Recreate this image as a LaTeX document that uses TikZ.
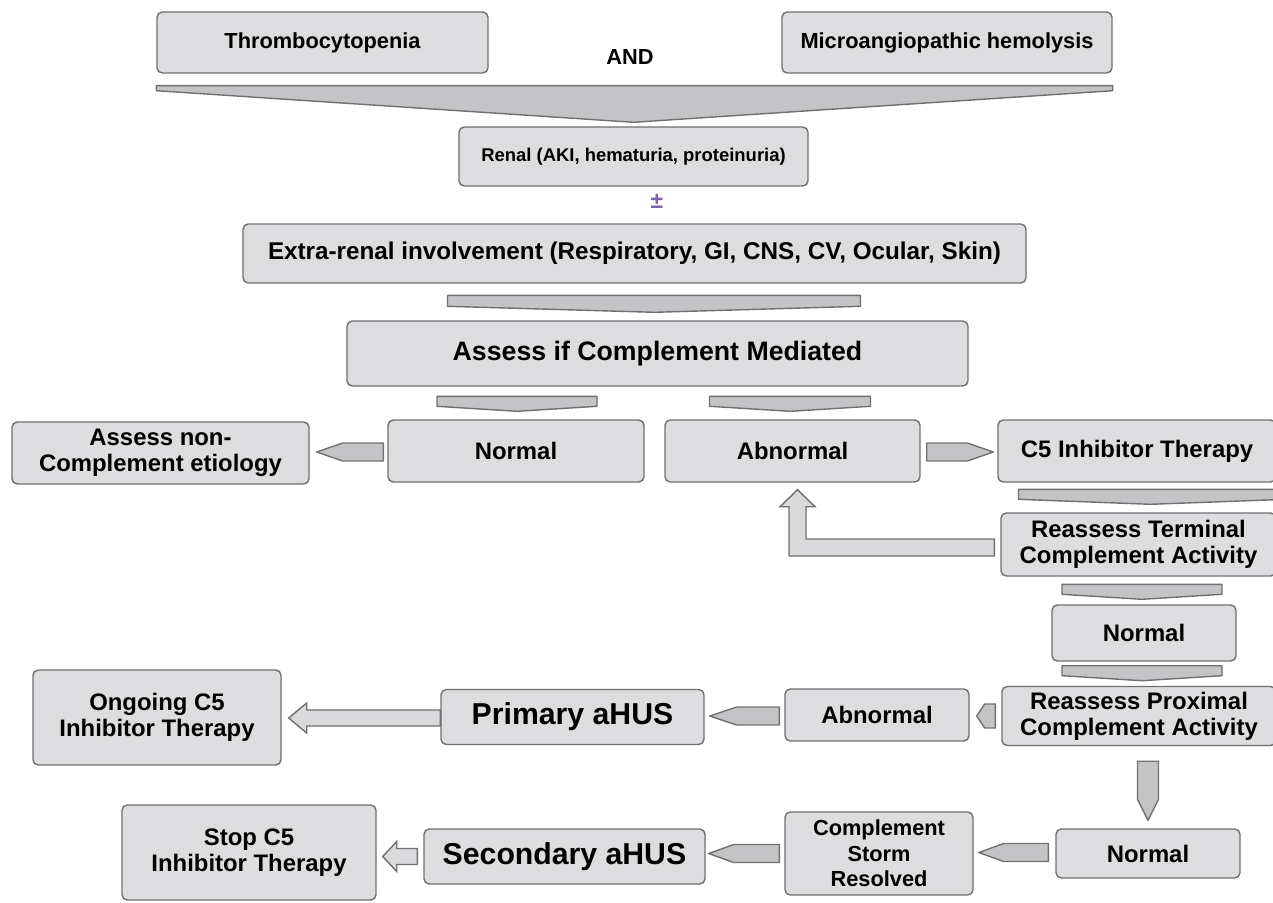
\documentclass[tikz,border=0pt]{standalone}
\usepackage{fontspec}
\setmainfont{Liberation Sans}
\usetikzlibrary{calc}

\definecolor{boxfill}{RGB}{221,221,223}
\definecolor{boxline}{RGB}{112,112,114}
\definecolor{arrfill}{RGB}{196,196,198}
\definecolor{lightfill}{RGB}{218,218,220}
\definecolor{pmpurple}{RGB}{128,100,170}

\tikzset{
  box/.style 2 args={draw=boxline, fill=boxfill, line width=0.8pt, rounded corners=3pt,
    align=center, inner sep=0pt, minimum width=#1*0.02cm, minimum height=#2*0.02cm},
  txtS/.style={font=\bfseries\fontsize{10.5}{12}\selectfont},
  txtM/.style={font=\bfseries\fontsize{12.4}{14.6}\selectfont},
  txtL/.style={font=\bfseries\fontsize{13.6}{14.8}\selectfont},
  txtXL/.style={font=\bfseries\fontsize{15.2}{17}\selectfont},
  txtXXL/.style={font=\bfseries\fontsize{17.2}{19}\selectfont},
  chev/.style={draw=boxline, fill=arrfill, line width=0.8pt, line join=round},
  blockarr/.style={draw=boxline, fill=arrfill, line width=0.8pt, line join=round},
  lightarr/.style={draw=boxline, fill=lightfill, line width=0.8pt, line join=miter}
}

\begin{document}
\begin{tikzpicture}[x=0.02cm, y=-0.02cm]
  \fill[white] (0,0) rectangle (1273,902);
  \useasboundingbox (0,0) rectangle (1273,902);

  % first row
  \node[box={331}{61}, txtM] (thromb) at (322.5,42.5) {Thrombocytopenia};
  \node[box={330}{61}, txtM] (micro) at (947,42.5) {Microangiopathic hemolysis};
  \node[txtM] (andlbl) at (630,57) {AND};

  \node[box={349}{59}, txtS] (renal) at (633.5,156.5) {Renal (AKI, hematuria, proteinuria)};
  \node[font=\bfseries\fontsize{13}{15}\selectfont, text=pmpurple] (pm) at (657,201) {±};
  \node[box={783}{59}, font=\bfseries\fontsize{13.8}{15}\selectfont] (extra) at (634.5,253.5) {Extra-renal involvement (Respiratory, GI, CNS, CV, Ocular, Skin)};
  \node[box={621}{65}, txtXL] (assess) at (657.5,353.5) {Assess if Complement Mediated};

  % second row
  \node[box={256}{62}, txtL] (normA) at (516,451) {Normal};
  \node[box={255}{62}, txtL] (abnA) at (792.5,451) {Abnormal};
  \node[box={297}{62}, txtL] (noncomp) at (160.5,453) {Assess non-\\Complement etiology};
  \node[box={278}{62}, txtL] (c5) at (1137,451) {C5 Inhibitor Therapy};

  % right column
  \node[box={275}{63}, txtL] (reterm) at (1138.5,544.5) {Reassess Terminal\\Complement Activity};
  \node[box={184}{56}, txtL] (normB) at (1144,633) {Normal};
  \node[box={274}{59}, txtL] (reprox) at (1139,716) {Reassess Proximal\\Complement Activity};

  % primary row
  \node[box={184}{52}, txtL] (abnB) at (877,715) {Abnormal};
  \node[box={263}{55}, txtXXL] (primary) at (572.5,717) {Primary aHUS};
  \node[box={248}{95}, txtL] (ongoing) at (157,717.5) {Ongoing C5\\Inhibitor Therapy};

  % secondary row
  \node[box={184}{49}, txtL] (normC) at (1148,853.5) {Normal};
  \node[box={188}{83}, txtM] (storm) at (879,853.5) {Complement\\Storm\\Resolved};
  \node[box={281}{55}, txtXXL] (secondary) at (564.5,856.5) {Secondary aHUS};
  \node[box={254}{95}, txtL] (stop) at (249,852.5) {Stop C5\\Inhibitor Therapy};

  % chevrons
  \draw[chev] ($(thromb.south west)+(0,12)$) coordinate (c1) -- ($(micro.south east)+(0,12)$) -- ++(0,5)
    -- ($(renal.north)+(0,-4)$) -- ($(c1)+(0,5)$) -- cycle;
  \draw[chev] ($(assess.north)+(-210,-25)$) coordinate (c2) -- ($(assess.north)+(203,-25)$) -- ++(0,11)
    -- ($(assess.north)+(-3,-8)$) -- ($(c2)+(0,11)$) -- cycle;
  \draw[chev] ($(normA.north)+(-79,-23)$) coordinate (c3) -- ($(normA.north)+(81,-23)$) -- ++(0,10)
    -- ($(normA.north)+(1,-8)$) -- ($(c3)+(0,10)$) -- cycle;
  \draw[chev] ($(abnA.north)+(-83,-23)$) coordinate (c4) -- ($(abnA.north)+(78,-23)$) -- ++(0,10)
    -- ($(abnA.north)+(-2,-8)$) -- ($(c4)+(0,10)$) -- cycle;
  \draw[chev] ($(reterm.north)+(-120,-23)$) coordinate (c5p) -- ($(reterm.north)+(148,-23)$) -- ++(0,10)
    -- ($(reterm.north)+(12,-8)$) -- ($(c5p)+(0,10)$) -- cycle;
  \draw[chev] ($(normB.north)+(-82,-20)$) coordinate (c6) -- ($(normB.north)+(78,-20)$) -- ++(0,10)
    -- ($(normB.north)+(-2,-5)$) -- ($(c6)+(0,10)$) -- cycle;
  \draw[chev] ($(normB.south)+(-82,4)$) coordinate (c7) -- ($(normB.south)+(78,4)$) -- ++(0,10)
    -- ($(normB.south)+(-2,19)$) -- ($(c7)+(0,10)$) -- cycle;

  % block arrows
  \coordinate (t1) at ($(normA.west)+(-4,1)$);
  \coordinate (h1) at ($(noncomp.east |- t1)+(7,0)$);
  \draw[blockarr] ($(t1)+(0,-9)$) -- ($(h1)+(26,-9)$) -- (h1) -- ($(h1)+(26,9)$) -- ($(t1)+(0,9)$) -- cycle;

  \coordinate (t2) at ($(abnA.east)+(6,1)$);
  \coordinate (h2) at ($(c5.west |- t2)+(-4,0)$);
  \draw[blockarr] ($(t2)+(0,-9)$) -- ($(h2)+(-26,-9)$) -- (h2) -- ($(h2)+(-26,9)$) -- ($(t2)+(0,9)$) -- cycle;

  \coordinate (t3) at ($(reprox.west)+(-6,0)$);
  \coordinate (h3) at ($(abnB.east |- t3)+(7,0)$);
  \draw[blockarr] ($(t3)+(0,-12)$) -- ($(h3)+(8,-12)$) -- (h3) -- ($(h3)+(8,12)$) -- ($(t3)+(0,12)$) -- cycle;

  \coordinate (t4) at ($(abnB.west)+(-5,1)$);
  \coordinate (h4) at ($(primary.east |- t4)+(5,0)$);
  \draw[blockarr] ($(t4)+(0,-9)$) -- ($(h4)+(27,-9)$) -- (h4) -- ($(h4)+(27,9)$) -- ($(t4)+(0,9)$) -- cycle;

  \coordinate (t6) at ($(storm.west)+(-5,0)$);
  \coordinate (h6) at ($(secondary.east |- t6)+(3,0)$);
  \draw[blockarr] ($(t6)+(0,-9)$) -- ($(h6)+(25,-9)$) -- (h6) -- ($(h6)+(25,9)$) -- ($(t6)+(0,9)$) -- cycle;

  \coordinate (t7) at ($(normC.west)+(-7,-1)$);
  \coordinate (h7) at ($(storm.east |- t7)+(5,0)$);
  \draw[blockarr] ($(t7)+(0,-9)$) -- ($(h7)+(25,-9)$) -- (h7) -- ($(h7)+(25,9)$) -- ($(t7)+(0,9)$) -- cycle;

  \coordinate (dt) at ($(normC.north |- reprox.south)+(0,15)$);
  \coordinate (dh) at ($(normC.north)+(0,-8)$);
  \draw[blockarr] ($(dt)+(-10.5,0)$) -- ($(dh)+(-10.5,-21)$) -- (dh) -- ($(dh)+(10.5,-21)$) -- ($(dt)+(10.5,0)$) -- cycle;

  % light arrows
  \coordinate (t5) at ($(primary.west)+(0,1)$);
  \coordinate (h5) at ($(ongoing.east |- t5)+(7,0)$);
  \draw[lightarr] ($(t5)+(0,-8)$) -- ($(h5)+(18,-8)$) -- ($(h5)+(18,-15)$) -- (h5)
    -- ($(h5)+(18,15)$) -- ($(h5)+(18,8)$) -- ($(t5)+(0,8)$) -- cycle;

  \coordinate (t8) at ($(secondary.west)+(-6,0)$);
  \coordinate (h8) at ($(stop.east |- t8)+(6,0)$);
  \draw[lightarr] ($(t8)+(0,-8)$) -- ($(h8)+(14,-8)$) -- ($(h8)+(14,-15)$) -- (h8)
    -- ($(h8)+(14,15)$) -- ($(h8)+(14,8)$) -- ($(t8)+(0,8)$) -- cycle;

  \coordinate (lt) at ($(reterm.west)+(-6,3)$);
  \coordinate (lh) at ($(abnA.south)+(5,7)$);
  \draw[lightarr] ($(lt)+(0,-8.5)$) -- ($(lh |- lt)+(8.5,-8.5)$) -- ($(lh)+(8.5,17)$) -- ($(lh)+(17.5,17)$)
    -- (lh) -- ($(lh)+(-17.5,17)$) -- ($(lh)+(-8.5,17)$) -- ($(lh |- lt)+(-8.5,8.5)$)
    -- ($(lt)+(0,8.5)$) -- cycle;
\end{tikzpicture}
\end{document}
